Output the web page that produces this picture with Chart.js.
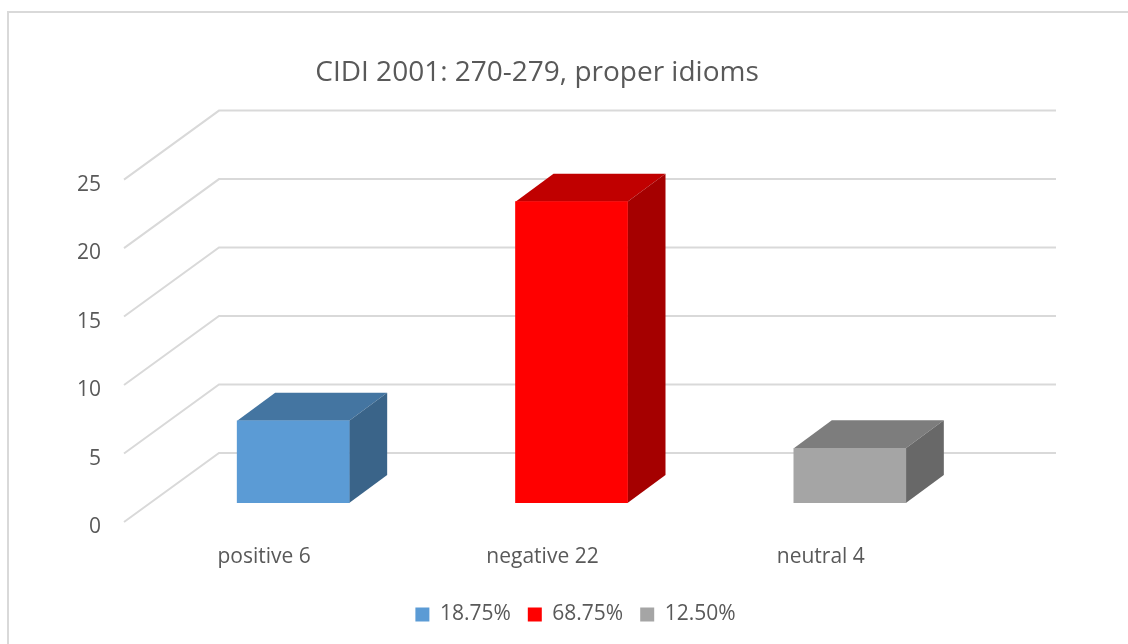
<!DOCTYPE html>
<html>
<head>
<meta charset="utf-8">
<script src="https://cdn.jsdelivr.net/npm/chart.js@4"></script>
<style>
  html, body { margin: 0; background: #fff; overflow: hidden; }
  #frame { position: absolute; left: 7px; top: 11px; right: 0; bottom: 0; border-left: 2px solid #d9d9d9; border-top: 2px solid #d9d9d9; }
  canvas { position: absolute; left: 0; top: 0; }
</style>
</head>
<body>
<div id="frame"></div>
<canvas id="chart" width="1128" height="644"></canvas>
<script>
const categories = ['positive 6', 'negative 22', 'neutral 4'];
const values = [6, 22, 4];
const shares = ['18.75%', '68.75%', '12.50%'];
const frontColors = ['#5b9bd5', '#ff0000', '#a5a5a5'];
const topColors = ['#4475a1', '#c00000', '#7d7d7d'];
const sideColors = ['#3a6489', '#a50000', '#686868'];

const textColor = '#595959';
const gridColor = '#d9d9d9';
const fontFamily = '"Open Sans", sans-serif';

// fake 3D: the bars live on a middle plane, walls sit in front of and behind it
const barDepth = { x: 38, y: 28 };
const wall = { frontX: -30, frontY: 19, backX: 65, backY: -50, rightX: 67 };

const fake3d = {
    id: 'fake3d',
    afterLayout(chart) {
        // title and legend are not centred on the same line in the original
        chart.titleBlock.left += 20;
        chart.legend.left += 4;
        chart.legend.right += 4;
    },
    beforeDatasetsDraw(chart) {
        const ctx = chart.ctx;
        const area = chart.chartArea;
        const yScale = chart.scales.y;

        ctx.save();
        ctx.strokeStyle = gridColor;
        ctx.lineWidth = 2;
        yScale.ticks.forEach(tick => {
            const py = yScale.getPixelForValue(tick.value);
            ctx.beginPath();
            ctx.moveTo(area.left + wall.frontX, py + wall.frontY);
            ctx.lineTo(area.left + wall.backX, py + wall.backY);
            ctx.lineTo(area.right + wall.rightX, py + wall.backY);
            ctx.stroke();
        });

        values.forEach((v, i) => {
            const bar = chart.getDatasetMeta(i).data[i];
            const x0 = bar.x - bar.width / 2;
            const x1 = bar.x + bar.width / 2;

            ctx.fillStyle = topColors[i];
            ctx.beginPath();
            ctx.moveTo(x0, bar.y);
            ctx.lineTo(x0 + barDepth.x, bar.y - barDepth.y);
            ctx.lineTo(x1 + barDepth.x, bar.y - barDepth.y);
            ctx.lineTo(x1, bar.y);
            ctx.closePath();
            ctx.fill();

            ctx.fillStyle = sideColors[i];
            ctx.beginPath();
            ctx.moveTo(x1, bar.y);
            ctx.lineTo(x1 + barDepth.x, bar.y - barDepth.y);
            ctx.lineTo(x1 + barDepth.x, bar.base - barDepth.y);
            ctx.lineTo(x1, bar.base);
            ctx.closePath();
            ctx.fill();
        });
        ctx.restore();
    }
};

new Chart(document.getElementById('chart'), {
    type: 'bar',
    plugins: [fake3d],
    data: {
        labels: categories,
        datasets: values.map((v, i) => ({
            label: shares[i],
            data: categories.map((c, j) => (j === i ? v : null)),
            backgroundColor: frontColors[i],
            barThickness: 112
        }))
    },
    options: {
        responsive: false,
        animation: false,
        layout: { padding: { left: 65, right: 139, bottom: 9 } },
        scales: {
            x: {
                stacked: true,
                afterFit: scale => { scale.height = 84; },
                grid: { display: false, drawTicks: false },
                border: { display: false },
                ticks: {
                    color: textColor,
                    font: { family: fontFamily, size: 21 },
                    labelOffset: -29,
                    padding: 41,
                    maxRotation: 0,
                    autoSkip: false
                }
            },
            y: {
                stacked: true,
                min: 0,
                max: 25,
                afterFit: scale => { scale.width = 89; },
                grid: { display: false, drawTicks: false },
                border: { display: false },
                ticks: {
                    stepSize: 5,
                    color: textColor,
                    font: { family: fontFamily, size: 21 },
                    labelOffset: 24,
                    padding: 53
                }
            }
        },
        plugins: {
            tooltip: { enabled: false },
            title: {
                display: true,
                text: 'CIDI 2001: 270-279, proper idioms',
                color: textColor,
                font: { family: fontFamily, size: 28, weight: 'normal' },
                padding: { top: 56, bottom: 71 }
            },
            legend: {
                position: 'bottom',
                fullSize: false,
                labels: {
                    color: textColor,
                    font: { family: fontFamily, size: 21 },
                    boxWidth: 14,
                    boxHeight: 14,
                    padding: 17
                }
            }
        }
    }
});
</script>
</body>
</html>
